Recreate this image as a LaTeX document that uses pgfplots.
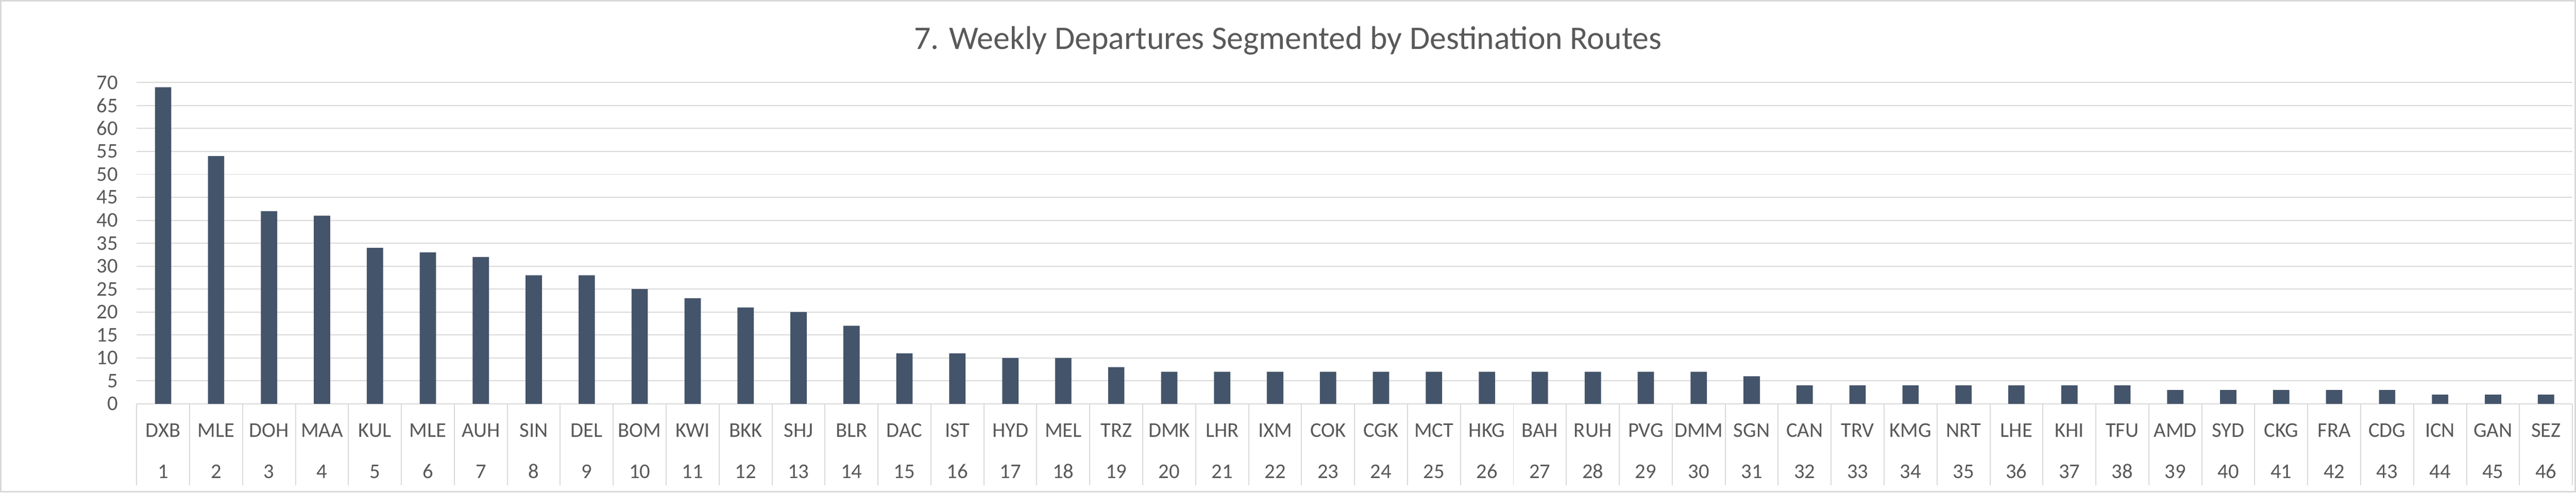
\documentclass[border=0pt]{standalone}
\usepackage{pgfplots}
\pgfplotsset{compat=1.18}
\usepackage{fontspec}
\setmainfont{Carlito}
\definecolor{gridgray}{HTML}{D9D9D9}
\definecolor{txtgray}{HTML}{595959}
\definecolor{barcol}{HTML}{44546A}
\begin{document}
\begin{tikzpicture}
\useasboundingbox (-53.6pt,-34.8pt) rectangle (956.8pt,158.4pt);
\fill[white] (-53.6pt,-34.8pt) rectangle (956.8pt,158.4pt);
\draw[gridgray, line width=0.6pt] (-53.3pt,-34.5pt) rectangle (956.5pt,158.1pt);
\begin{axis}[
  scale only axis,
  width=955.4pt, height=126pt,
  xmin=0.5, xmax=46.5, ymin=0, ymax=70,
  /pgf/number format/assume math mode=true,
  axis x line*=bottom, axis y line*=left,
  x axis line style={draw=gridgray, line width=0.4pt},
  y axis line style={draw=none},
  ytick={0,5,...,70},
  yticklabels={0,5,10,15,20,25,30,35,40,45,50,55,60,65,70},
  ymajorgrids,
  major grid style={draw=gridgray, line width=0.4pt},
  ytick style={draw=none},
  yticklabel style={anchor=east, inner sep=0pt, xshift=-7.2pt, font=\fontsize{8.2}{9}\selectfont, text=txtgray},
  xtick={1,...,46},
  major tick length=0pt,
  minor xtick={0.5,1.5,...,46.5},
  minor tick length=32pt,
  tick align=outside,
  minor x tick style={draw=gridgray, line width=0.4pt},
  xticklabels={DXB,MLE,DOH,MAA,KUL,MLE,AUH,SIN,DEL,BOM,KWI,BKK,SHJ,BLR,DAC,IST,HYD,MEL,TRZ,DMK,LHR,IXM,COK,CGK,MCT,HKG,BAH,RUH,PVG,DMM,SGN,CAN,TRV,KMG,NRT,LHE,KHI,TFU,AMD,SYD,CKG,FRA,CDG,ICN,GAN,SEZ},
  xticklabel style={anchor=base, inner sep=0pt, yshift=-13.1pt, font=\fontsize{8.2}{9}\selectfont, text=txtgray},
  extra x ticks={1,...,46},
  extra x tick labels={1,2,3,4,5,6,7,8,9,10,11,12,13,14,15,16,17,18,19,20,21,22,23,24,25,26,27,28,29,30,31,32,33,34,35,36,37,38,39,40,41,42,43,44,45,46},
  extra x tick style={xticklabel style={yshift=-16.1pt}},
  ybar, bar width=6.4pt,
  clip=false,
]
\addplot[fill=barcol, draw=none] coordinates {
(1,69) (2,54) (3,42) (4,41) (5,34) (6,33) (7,32) (8,28) (9,28) (10,25)
(11,23) (12,21) (13,20) (14,17) (15,11) (16,11) (17,10) (18,10) (19,8) (20,7)
(21,7) (22,7) (23,7) (24,7) (25,7) (26,7) (27,7) (28,7) (29,7) (30,7)
(31,6) (32,4) (33,4) (34,4) (35,4) (36,4) (37,4) (38,4) (39,3) (40,3)
(41,3) (42,3) (43,3) (44,2) (45,2) (46,2)};
\end{axis}
\node[anchor=base, inner sep=0pt, text=txtgray, font=\fontsize{12.9}{15}\selectfont] at (451.6pt,139.06pt) {7. Weekly Departures Segmented by Destination Routes};
\end{tikzpicture}
\end{document}
